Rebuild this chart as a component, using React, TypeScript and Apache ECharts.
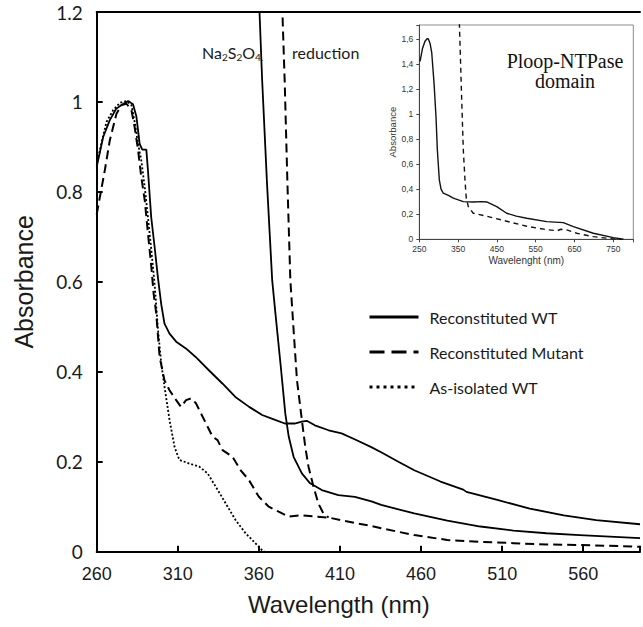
import React, { useEffect, useRef } from "react";
import * as echarts from "echarts";

// Main panel: [wavelength (nm), absorbance]
const reconstitutedWT: number[][] = [
  [260, 0.856], [264, 0.922], [268, 0.959], [272, 0.985], [276, 0.995], [279.4, 1.002], [282.4, 0.995],
  [284.5, 0.967], [286.5, 0.907], [288.1, 0.894], [290.6, 0.894], [291.6, 0.848], [293.6, 0.744],
  [295.7, 0.678], [297.7, 0.611], [299.8, 0.55], [301.8, 0.507], [304.9, 0.485], [309, 0.467],
  [315, 0.452], [321, 0.433], [329, 0.404], [337.5, 0.374], [345.5, 0.344], [354, 0.322], [362, 0.304],
  [370, 0.293], [376, 0.285], [382, 0.285], [386.5, 0.289], [389.5, 0.291], [394.5, 0.281], [403, 0.27],
  [411, 0.263], [419, 0.25], [429, 0.233], [435.4, 0.221], [446, 0.2], [455.8, 0.181], [472, 0.156],
  [486, 0.138], [488, 0.133], [507, 0.115], [527, 0.096], [548, 0.081], [568, 0.07], [595, 0.061],
];
const reducedWT: number[][] = [
  [359.8, 1.25], [360.5, 1.19], [362, 1.05], [365, 0.82], [368.2, 0.604], [370.2, 0.53], [373.3, 0.419],
  [376.3, 0.307], [378.4, 0.256], [381.4, 0.211], [386.5, 0.174], [391.6, 0.152], [398.8, 0.137],
  [409, 0.126], [419.2, 0.122], [429.4, 0.112], [435.4, 0.104], [455.8, 0.085], [476.2, 0.069],
  [496.6, 0.056], [517, 0.047], [537.4, 0.041], [557.8, 0.037], [595, 0.03],
];
const reconstitutedMutant: number[][] = [
  [260, 0.75], [265, 0.848], [268.1, 0.915], [272.2, 0.974], [275.3, 0.993], [278.4, 0.996], [281.4, 0.982],
  [283.4, 0.944], [285.5, 0.893], [287.5, 0.833], [289.6, 0.782], [291.6, 0.708], [293.7, 0.633],
  [295.1, 0.574], [296.7, 0.53], [298.8, 0.433], [301.8, 0.381], [304.9, 0.359], [309, 0.337], [312, 0.322],
  [315.1, 0.337], [318.2, 0.341], [321.2, 0.33], [326.3, 0.293], [331.4, 0.256], [334.5, 0.248],
  [337.6, 0.226], [343.7, 0.211], [348.8, 0.181], [353.9, 0.159], [360, 0.122], [366.1, 0.1], [372.2, 0.089],
  [378.4, 0.078], [386.5, 0.081], [394.7, 0.078], [402.9, 0.076], [411, 0.07], [419.2, 0.064],
  [429.4, 0.057], [435.4, 0.052], [455.8, 0.037], [476.2, 0.026], [496.6, 0.022], [517, 0.019],
  [537.4, 0.016], [557.8, 0.015], [595, 0.011],
];
const reducedMutant: number[][] = [
  [374.2, 1.25], [374.7, 1.178], [375.9, 1.048], [377.6, 0.82], [379.4, 0.604], [381.4, 0.493],
  [383.5, 0.381], [386.5, 0.293], [388.6, 0.233], [390.6, 0.189], [393.7, 0.144], [396.7, 0.107],
  [399.8, 0.085], [403, 0.076],
];
const asIsolatedWT: number[][] = [
  [260, 0.86], [263, 0.91], [266.1, 0.956], [270.2, 0.982], [274.3, 0.998], [278.4, 1.002], [281.4, 0.993],
  [283.4, 0.956], [285.5, 0.907], [287.5, 0.87], [289.6, 0.811], [291.6, 0.744], [293.7, 0.67],
  [295.7, 0.595], [297.8, 0.493], [299.8, 0.419], [301.8, 0.367], [304.9, 0.293], [308, 0.233],
  [311, 0.204], [317.1, 0.196], [323.3, 0.189], [328.4, 0.174], [333.5, 0.144], [339.6, 0.107],
  [345.7, 0.07], [351.8, 0.041], [357.8, 0.019], [362, 0.003], [363.5, 0],
];

// Inset: Ploop-NTPase domain
const insetNative: number[][] = [
  [252, 1.42], [258, 1.52], [264.7, 1.58], [270, 1.6], [273, 1.6], [278, 1.56], [282, 1.49], [287.9, 1.25],
  [293, 0.98], [296.5, 0.714], [301.6, 0.474], [306, 0.4], [311.9, 0.368], [325, 0.35], [337.6, 0.328],
  [363.4, 0.301], [389.2, 0.298], [410, 0.301], [423.7, 0.298], [449.5, 0.261], [475.3, 0.208],
  [500, 0.185], [526.8, 0.168], [578.4, 0.141], [621.1, 0.133], [647, 0.101], [698.5, 0.048],
  [750, 0.013], [776, 0],
];
const insetReduced: number[][] = [
  [352.5, 1.8], [355.5, 1.5], [359.3, 1.11], [363.4, 0.714], [367.8, 0.47], [371, 0.33], [376.3, 0.261],
  [389, 0.208], [423.7, 0.184], [475.3, 0.144], [526.8, 0.104], [578.4, 0.077], [605, 0.068],
  [615, 0.08], [630, 0.075], [655.6, 0.048], [698.5, 0.021], [750, 0.003], [770, 0],
];

const legendNames = ["Reconstituted WT", "Reconstituted Mutant", "As-isolated WT"];
const mainXTicks = [260, 310, 360, 410, 460, 510, 560];
const insetXTicks = [250, 350, 450, 550, 650, 750];

const SANS = "Liberation Sans";
const HUM = "Lato";

export default function App() {
  const ref = useRef<HTMLDivElement>(null);
  useEffect(() => {
    if (!ref.current) return;
    const chart = echarts.init(ref.current, null, { renderer: "svg" });
    const black = "#000";
    const hidden = { color: "rgba(0,0,0,0)", borderColor: "rgba(0,0,0,0)", borderWidth: 0, opacity: 0 };
    const option: any = {
      animation: false,
      backgroundColor: "#fff",
      grid: [
        { left: 96.7, top: 12, right: 0, bottom: 75.3 },
        {
          left: 419.3, top: 25, width: 214, height: 214.3, show: true,
          borderColor: "#8c8c8c", borderWidth: 1, backgroundColor: "#fff",
        },
      ],
      xAxis: [
        {
          gridIndex: 0, type: "value", min: 260, max: 595, interval: 50,
          axisLine: { show: true, onZero: false, lineStyle: { color: black, width: 2 } },
          axisTick: { show: true, inside: true, length: 6, lineStyle: { color: black, width: 2 } },
          axisLabel: {
            formatter: (v: number) => (mainXTicks.indexOf(Math.round(v)) >= 0 ? String(Math.round(v)) : ""),
            fontFamily: SANS, fontSize: 18, color: "#1a1a1a", margin: 13,
          },
          splitLine: { show: false },
          name: "Wavelength (nm)", nameLocation: "middle", nameGap: 41,
          nameTextStyle: { fontFamily: SANS, fontSize: 24, color: "#1a1a1a", padding: [0, 59, 0, 0] },
        },
        {
          gridIndex: 0, type: "value", position: "top", min: 260, max: 595,
          axisLine: { show: true, onZero: false, lineStyle: { color: black, width: 2 } },
          axisTick: { show: false }, axisLabel: { show: false }, splitLine: { show: false },
        },
        {
          gridIndex: 1, type: "value", min: 250, max: 801.5, interval: 100,
          axisLine: { show: true, onZero: false, lineStyle: { color: "#444", width: 1 } },
          axisTick: { show: true, length: 3, lineStyle: { color: "#444", width: 1 } },
          axisLabel: {
            formatter: (v: number) => (insetXTicks.indexOf(Math.round(v)) >= 0 ? String(Math.round(v)) : ""),
            fontFamily: SANS, fontSize: 8.5, color: "#333", margin: 5,
          },
          splitLine: { show: false },
          name: "Wavelenght (nm)", nameLocation: "middle", nameGap: 16,
          nameTextStyle: { fontFamily: SANS, fontSize: 10, color: "#333" },
        },
      ],
      yAxis: [
        {
          gridIndex: 0, type: "value", min: 0, max: 1.2, interval: 0.2,
          axisLine: { show: true, onZero: false, lineStyle: { color: black, width: 2 } },
          axisTick: { show: true, inside: true, length: 6, lineStyle: { color: black, width: 2 } },
          axisLabel: {
            formatter: (v: number) => String(Math.round(v * 10) / 10),
            fontFamily: HUM, fontSize: 19, color: "#1a1a1a", margin: 14,
          },
          splitLine: { show: false },
          name: "Absorbance", nameLocation: "middle", nameGap: 60,
          nameTextStyle: { fontFamily: SANS, fontSize: 25, color: "#1a1a1a" },
        },
        {
          gridIndex: 1, type: "value", min: 0, max: 1.71, interval: 0.2,
          axisLine: { show: true, onZero: false, lineStyle: { color: "#444", width: 1 } },
          axisTick: { show: true, length: 3, lineStyle: { color: "#444", width: 1 } },
          axisLabel: {
            formatter: (v: number) => {
              const r = Math.round(v * 10) / 10;
              if (r > 1.6) return "";
              return Number.isInteger(r) ? String(r) : r.toFixed(1).replace(".", ",");
            },
            fontFamily: SANS, fontSize: 8.5, color: "#333", margin: 6,
          },
          splitLine: { show: false },
          name: "Absorbance", nameLocation: "middle", nameGap: 22,
          nameTextStyle: { fontFamily: SANS, fontSize: 9.5, color: "#333" },
        },
      ],
      legend: {
        orient: "vertical", left: 368, top: 308, padding: 0, itemWidth: 49, itemHeight: 14, itemGap: 17,
        selectedMode: false,
        textStyle: { fontFamily: HUM, fontSize: 16, color: "#1a1a1a", lineHeight: 18, padding: [0, 0, 0, 6] },
        data: [
          { name: legendNames[0], itemStyle: hidden, lineStyle: { color: black, width: 3, type: "solid" } },
          { name: legendNames[1], itemStyle: hidden, lineStyle: { color: black, width: 3, type: [15, 7] } },
          { name: legendNames[2], itemStyle: hidden, lineStyle: { color: black, width: 3, type: [3, 4] } },
        ],
      },
      graphic: [
        {
          type: "text", x: 202, y: 52, silent: true,
          style: {
            text: "{a|Na}{s|2}{a|S}{s|2}{a|O}{s|4.}",
            fill: "#1a1a1a", verticalAlign: "middle", textVerticalAlign: "middle",
            rich: {
              a: { fontFamily: HUM, fontSize: 16, fill: "#1a1a1a", lineHeight: 20, verticalAlign: "middle" },
              s: { fontFamily: HUM, fontSize: 10, fill: "#1a1a1a", lineHeight: 10, verticalAlign: "bottom", padding: [9, 0, 0, 0] },
            },
          },
        },
        {
          type: "text", x: 292, y: 52, silent: true,
          style: {
            text: "reduction", fontFamily: HUM, fontSize: 16, fill: "#1a1a1a",
            verticalAlign: "middle", textVerticalAlign: "middle",
          },
        },
        {
          type: "text", x: 565, y: 51, silent: true, z: 10,
          style: {
            text: "Ploop-NTPase\ndomain", fontFamily: "Liberation Serif", fontSize: 20, lineHeight: 20,
            fill: "#111", align: "center", textAlign: "center", verticalAlign: "top", textVerticalAlign: "top",
          },
        },
      ],
      series: [
        { type: "line", name: legendNames[0], xAxisIndex: 0, yAxisIndex: 0, data: reconstitutedWT, symbol: "none", silent: true,
          itemStyle: { color: black }, lineStyle: { color: black, width: 1.8 } },
        { type: "line", name: "Reconstituted WT (reduced)", xAxisIndex: 0, yAxisIndex: 0, data: reducedWT, symbol: "none", silent: true,
          itemStyle: { color: black }, lineStyle: { color: black, width: 1.8 } },
        { type: "line", name: legendNames[1], xAxisIndex: 0, yAxisIndex: 0, data: reconstitutedMutant, symbol: "none", silent: true,
          itemStyle: { color: black }, lineStyle: { color: black, width: 2, type: [9, 5] } },
        { type: "line", name: "Reconstituted Mutant (reduced)", xAxisIndex: 0, yAxisIndex: 0, data: reducedMutant, symbol: "none", silent: true,
          itemStyle: { color: black }, lineStyle: { color: black, width: 2, type: [9, 5] } },
        { type: "line", name: legendNames[2], xAxisIndex: 0, yAxisIndex: 0, data: asIsolatedWT, symbol: "none", silent: true,
          itemStyle: { color: black }, lineStyle: { color: black, width: 1.8, type: [2, 2] } },
        { type: "line", name: "Ploop native", xAxisIndex: 2, yAxisIndex: 1, data: insetNative, symbol: "none", silent: true,
          itemStyle: { color: black }, lineStyle: { color: "#111", width: 1.4 } },
        { type: "line", name: "Ploop reduced", xAxisIndex: 2, yAxisIndex: 1, data: insetReduced, symbol: "none", silent: true,
          itemStyle: { color: black }, lineStyle: { color: "#111", width: 1.4, type: [5, 4] } },
      ],
    };
    chart.setOption(option);
    return () => chart.dispose();
  }, []);
  return (
    <div
      ref={ref}
      style={{ position: "fixed", left: 0, top: 0, width: 643, height: 627, background: "#fff" }}
    />
  );
}
